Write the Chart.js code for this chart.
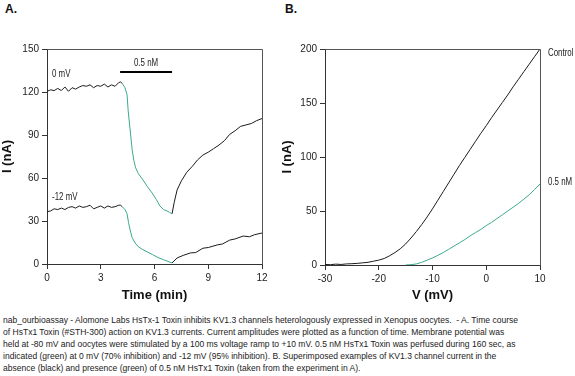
<!DOCTYPE html>
<html>
<head>
<meta charset="utf-8">
<script src="https://cdn.jsdelivr.net/npm/chart.js@4/dist/chart.umd.min.js"></script>
<style>
  body { margin: 0; width: 575px; height: 376px; background: #fff; position: relative; overflow: hidden;
         font-family: "Liberation Sans", Arial, sans-serif; }
  .box { position: absolute; }
  .lbl { position: absolute; font-family: "Liberation Sans", Arial, sans-serif;
         font-size: 11px; color: #222; line-height: 12px; white-space: nowrap;
         transform: scaleX(0.72); transform-origin: 0 0; }
  .panel { position: absolute; font-weight: bold; font-size: 12px; color: #111; }
  #caption { position: absolute; left: 3px; top: 314px; font-size: 9.5px;
             line-height: 12px; color: #222; transform-origin: 0 0; }
  #caption span { display: block; white-space: nowrap; width: max-content; }
</style>
</head>
<body>
<div class="panel" style="left:5px; top:2px;">A.</div>
<div class="panel" style="left:285px; top:2px;">B.</div>

<div class="box" style="left:0; top:0; width:285px; height:310px;"><canvas id="chartA"></canvas></div>
<div class="box" style="left:280px; top:0; width:295px; height:310px;"><canvas id="chartB"></canvas></div>

<div class="lbl" style="left:52px; top:67px;">0 mV</div>
<div class="lbl" style="left:52px; top:190px;">-12 mV</div>
<div class="lbl" style="left:134px; top:56px;">0.5 nM</div>
<div class="lbl" style="left:548px; top:46px;">Control</div>
<div class="lbl" style="left:548px; top:175px;">0.5 nM</div>

<div id="caption">
<span id="capLine1">nab_ourbioassay - Alomone Labs HsTx-1 Toxin inhibits KV1.3 channels heterologously expressed in Xenopus oocytes.&nbsp; - A. Time course</span>
<span>of HsTx1 Toxin (#STH-300) action on KV1.3 currents. Current amplitudes were plotted as a function of time. Membrane potential was</span>
<span>held at -80 mV and oocytes were stimulated by a 100 ms voltage ramp to +10 mV. 0.5 nM HsTx1 Toxin was perfused during 160 sec, as</span>
<span>indicated (green) at 0 mV (70% inhibition) and -12 mV (95% inhibition). B. Superimposed examples of KV1.3 channel current in the</span>
<span>absence (black) and presence (green) of 0.5 nM HsTx1 Toxin (taken from the experiment in A).</span>
</div>

<script>
// --- A. time course (min, nA)
var preTime = [0, 0.2, 0.4, 0.6, 0.8, 1.0, 1.2, 1.4, 1.6, 1.8, 2.0, 2.2, 2.4, 2.6, 2.8, 3.0, 3.2, 3.4, 3.6, 3.8, 4.0, 4.1, 4.2];
var pre0mV   = [120.5, 121.5, 121, 122.5, 121, 123.5, 120.5, 123, 122, 123.5, 124.5, 124, 125, 123, 124.5, 124, 125.5, 123.5, 125, 124, 126.5, 127, 126];
var pre12mV  = [36.5, 37, 38.5, 38, 39, 38, 39.5, 40, 39, 40.5, 39.5, 40, 41, 38.5, 39.5, 40.5, 39, 40.5, 39.5, 40, 41, 41, 40];

var toxTime0 = [4.2, 4.35, 4.47, 4.53, 4.64, 4.75, 4.85, 4.95, 5.1, 5.36, 5.6, 5.87, 6.1, 6.3, 6.5, 6.7, 6.85, 6.98];
var tox0mV   = [126, 123, 118, 107, 93.5, 80, 72, 67, 63, 58.6, 54, 49.5, 45, 40.5, 38, 37, 36, 35];
var toxTime12 = [4.2, 4.35, 4.47, 4.55, 4.64, 4.75, 4.92, 5.1, 5.35, 5.6, 5.9, 6.2, 6.5, 6.75, 6.98];
var tox12mV   = [40, 38, 35, 29, 23.7, 18.5, 14.6, 12, 10, 8.4, 6.5, 4.5, 3, 1.8, 0.7];

var washTime0 = [6.98, 7.1, 7.26, 7.5, 7.8, 8.1, 8.4, 8.7, 9.0, 9.3, 9.6, 9.9, 10.2, 10.5, 10.8, 11.1, 11.4, 11.7, 12];
var wash0mV   = [35, 43, 51.6, 58, 64, 68, 72.6, 76, 78, 80.5, 83, 86, 90.5, 93, 96, 97, 98, 100, 101.5];
var washTime12 = [6.98, 7.26, 7.6, 8.0, 8.3, 8.7, 9.0, 9.5, 9.8, 10.2, 10.5, 10.95, 11.3, 11.6, 12];
var wash12mV   = [0.7, 4.2, 6, 7.7, 8, 11, 11.5, 13.3, 14, 16.7, 17.5, 19.5, 19, 20.5, 21.6];

var barTime = [4.08, 6.98];
var barLevel = [134, 134];

// --- B. ramp current (mV, nA)
var rampV = [-30, -29, -28, -27, -26, -25, -24, -23, -22, -21, -20, -19, -18, -17, -16, -15, -14, -13, -12, -11, -10,
             -9, -8, -7, -6, -5, -4, -3, -2, -1, 0, 1, 2, 3, 4, 5, 6, 7, 8, 9, 10];
var control = [0.5, 0.3, 0.8, 0.5, 1, 1.2, 1.5, 2, 2.5, 3.5, 4.5, 6, 8.5, 11.5, 15, 19.5, 25, 31, 37.5, 44.5, 52,
               60, 68, 76, 84, 92, 99.5, 107, 114.5, 122, 129, 136.5, 143.5, 150.5, 157.5, 165, 172, 179, 186, 193, 200];
var toxin = [null, null, null, null, null, null, null, null, null, null, null, null, null, null, null, 0, 0.3, 1, 2.5, 4.5, 6.5,
             9, 11.5, 14.5, 17.5, 20.5, 23.5, 27, 30, 33, 36.5, 39.5, 43, 46.5, 50, 53.5, 57, 61, 65, 70, 75];

var BLACK = '#1b1b1b';
var GREEN = '#3aa98f';
var tickFont = { family: '"Liberation Sans", Arial, sans-serif', size: 10 };
var titleFont = { family: '"Liberation Sans", Arial, sans-serif', size: 13, weight: 'bold' };

// squeeze the caption so its first line spans ~515px like the original
var cap = document.getElementById('caption');
var w1 = document.getElementById('capLine1').getBoundingClientRect().width;
cap.style.transform = 'scaleX(' + (515 / w1) + ')';

function pts(xs, ys) {
  return xs.map(function(x, i) { return { x: x, y: ys[i] }; });
}
function line(xs, ys, color) {
  return { data: pts(xs, ys), borderColor: color, borderWidth: 1, pointRadius: 0, tension: 0, spanGaps: false };
}

var framePlugin = {
  id: 'frame',
  afterDraw: function(chart) {
    var a = chart.chartArea, c = chart.ctx;
    c.save();
    c.strokeStyle = '#555';
    c.lineWidth = 1;
    c.beginPath();
    c.moveTo(Math.round(a.left) + 0.5, Math.round(a.top) + 0.5);
    c.lineTo(Math.round(a.right) + 0.5, Math.round(a.top) + 0.5);
    c.lineTo(Math.round(a.right) + 0.5, Math.round(a.bottom) + 0.5);
    c.stroke();
    c.restore();
  }
};

function axis(min, max, step, title, fitSize, isX) {
  return {
    type: 'linear', min: min, max: max,
    ticks: { stepSize: step, font: tickFont, color: '#222', padding: 3, maxRotation: 0 },
    grid: { drawOnChartArea: false, color: '#333', tickLength: 5 },
    border: { color: '#333' },
    title: { display: true, text: title, font: titleFont, color: '#111', padding: isX ? { top: 2, bottom: 7 } : 0 },
    afterFit: function(s) { if (isX) { s.height = fitSize; } else { s.width = fitSize; } }
  };
}

Chart.defaults.animation = false;

new Chart(document.getElementById('chartA'), {
  type: 'line',
  data: {
    datasets: [
      line(preTime, pre0mV, BLACK),
      line(toxTime0, tox0mV, GREEN),
      line(washTime0, wash0mV, BLACK),
      line(preTime, pre12mV, BLACK),
      line(toxTime12, tox12mV, GREEN),
      line(washTime12, wash12mV, BLACK),
      Object.assign(line(barTime, barLevel, '#000'), { borderWidth: 2 })
    ]
  },
  options: {
    responsive: true,
    maintainAspectRatio: false,
    layout: { padding: { top: 49, right: 23, left: 0, bottom: 0 } },
    plugins: { legend: { display: false }, tooltip: { enabled: false } },
    scales: {
      x: axis(0, 12, 3, 'Time (min)', 46, true),
      y: axis(0, 150, 30, 'I (nA)', 47, false)
    }
  },
  plugins: [framePlugin]
});

new Chart(document.getElementById('chartB'), {
  type: 'line',
  data: {
    datasets: [
      line(rampV, toxin, GREEN),
      line(rampV, control, BLACK)
    ]
  },
  options: {
    responsive: true,
    maintainAspectRatio: false,
    layout: { padding: { top: 49, right: 35, left: 0, bottom: 0 } },
    plugins: { legend: { display: false }, tooltip: { enabled: false } },
    scales: {
      x: axis(-30, 10, 10, 'V (mV)', 45, true),
      y: axis(0, 200, 50, 'I (nA)', 45, false)
    }
  },
  plugins: [framePlugin]
});
</script>
</body>
</html>
